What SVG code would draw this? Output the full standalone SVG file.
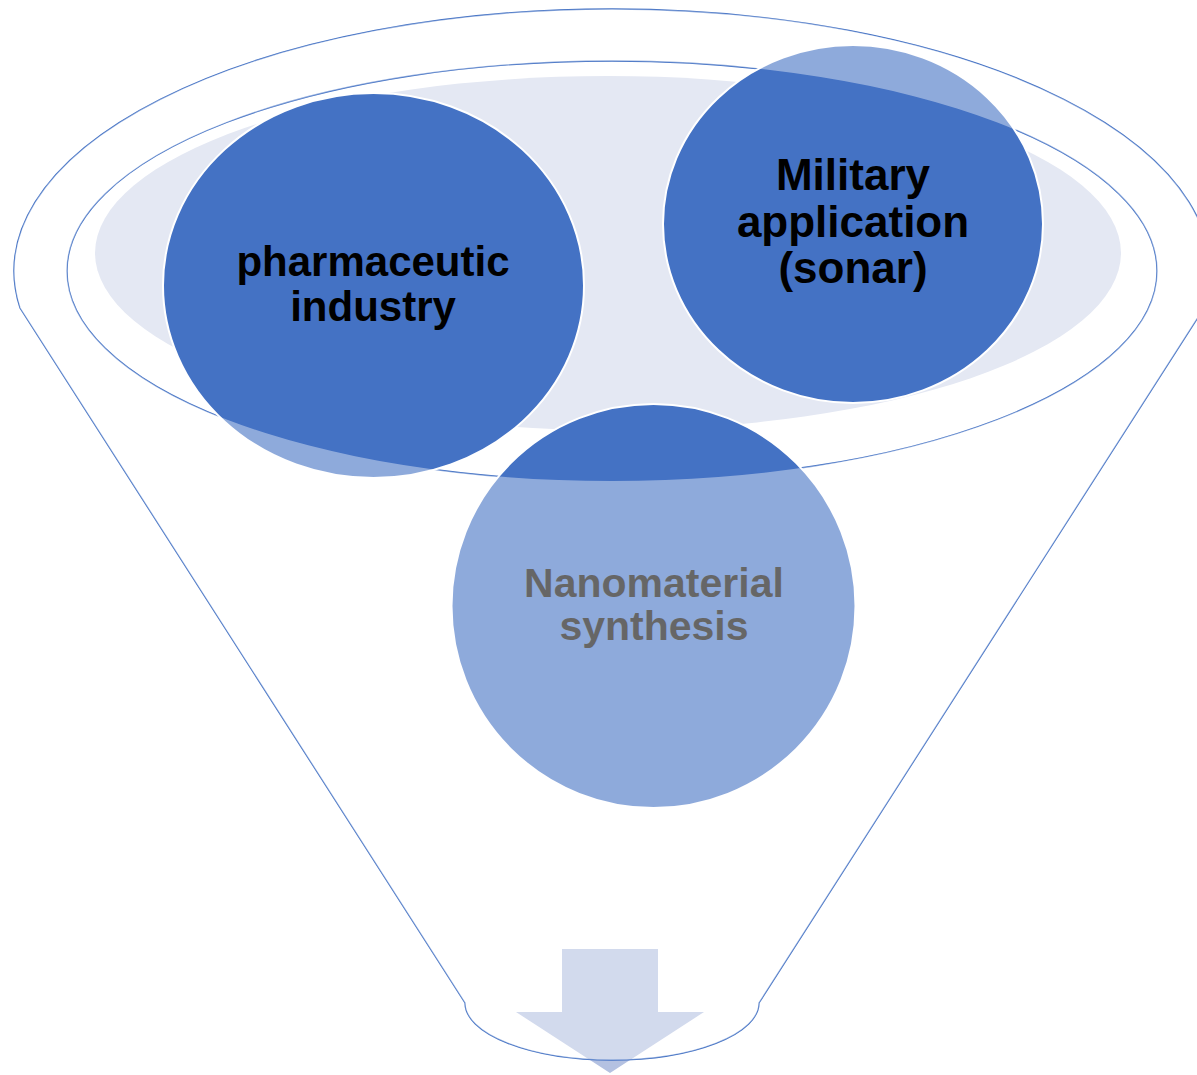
<svg xmlns="http://www.w3.org/2000/svg" width="1197" height="1075" viewBox="0 0 1197 1075">
<style>
.circle{fill:#4472C4;stroke:#FFFFFF;stroke-width:2}
.label{font-family:"Liberation Sans",Arial,sans-serif;font-weight:bold;fill:#000000;text-anchor:middle}
.funnel-line{fill:none;stroke:#4472C4;stroke-width:1.3}
</style>
<rect x="0" y="0" width="1197" height="1075" fill="#FFFFFF"/>
<g id="arrow">
<polygon points="562,949 658,949 658,1012 704,1012 610,1073 516,1012 562,1012" fill="#B4C1E1"/>
</g>
<g id="funnel">
<path class="funnel-line" d="M20,308 A598,262 0 1 1 1204,308 L759,1003 A147,57 0 0 1 465,1003 Z"/>
<ellipse class="funnel-line" cx="612" cy="271" rx="545" ry="210"/>
<ellipse cx="608" cy="253" rx="513" ry="177" fill="#E4E8F3"/>
</g>
<g id="node-pharmaceutic">
<ellipse class="circle" cx="373.5" cy="285.5" rx="210.5" ry="192.5"/>
<text class="label" x="373" y="276" font-size="42">pharmaceutic</text>
<text class="label" x="373" y="321" font-size="42">industry</text>
</g>
<g id="node-military">
<ellipse class="circle" cx="853" cy="224" rx="190" ry="179"/>
<text class="label" x="853" y="190" font-size="44">Military</text>
<text class="label" x="853" y="237" font-size="44">application</text>
<text class="label" x="853" y="283" font-size="44">(sonar)</text>
</g>
<g id="node-nanomaterial">
<circle class="circle" cx="653.5" cy="606" r="202"/>
<text class="label" x="654" y="597" font-size="41">Nanomaterial</text>
<text class="label" x="654" y="640" font-size="41">synthesis</text>
</g>
<g id="funnel-overlay">
<path fill="#FFFFFF" fill-opacity="0.4" fill-rule="evenodd" d="M20,308 A598,262 0 1 1 1204,308 L759,1003 A147,57 0 0 1 465,1003 Z M67,271 A545,210 0 1 0 1157,271 A545,210 0 1 0 67,271 Z"/>
</g>
</svg>
